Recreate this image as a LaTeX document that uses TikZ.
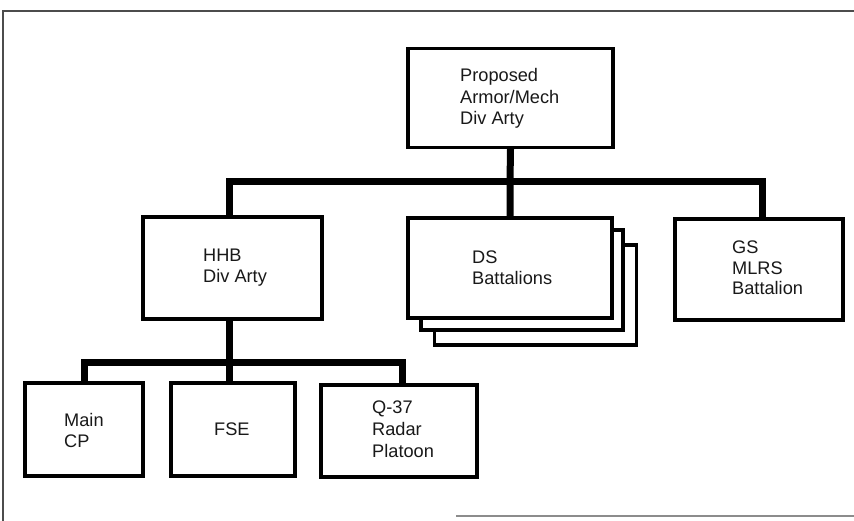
\documentclass[tikz,border=0pt]{standalone}
\usepackage{fontspec}
\setmainfont{Liberation Sans}
\begin{document}
\begin{tikzpicture}[x=1pt,y=-1pt,
  box/.style={draw=black,line width=3.2pt,fill=white,rectangle,inner sep=0pt},
  lbl/.style={anchor=base west,inner sep=0pt,font=\fontsize{18.2}{21.5}\selectfont,text=black!90},
  bus/.style={line width=7pt,black},
  frame/.style={line width=2pt,black!70}]
\useasboundingbox[fill=white] (0,0) rectangle (854,521);
% page frame
\coordinate (f1) at (3,521);
\coordinate (f2) at (3,11);
\coordinate (f3) at (854,11);
\draw[frame] (f1) -- (f2) -- (f3);
\coordinate (g1) at (456,516);
\coordinate (g2) at (854,516);
\draw[line width=2pt,black!45] (g1) -- (g2);
% boxes
\node[box,minimum width=205,minimum height=99] (top) at (510.5,98) {};
\node[box,minimum width=179,minimum height=102] (hhb) at (232.5,268) {};
\node[box,minimum width=202,minimum height=100] (ds3) at (435+100.5,295) {};
\node[box,minimum width=202,minimum height=100] (ds2) at (421+101,280) {};
\node[box,minimum width=204,minimum height=100] (ds) at (510,268) {};
\node[box,minimum width=168,minimum height=101] (gs) at (759,269.5) {};
\node[box,minimum width=118,minimum height=93] (cp) at (84,429.5) {};
\node[box,minimum width=124,minimum height=93] (fse) at (233,429.5) {};
\node[box,minimum width=156,minimum height=92] (q37) at (399,431) {};
% upper bus
\coordinate (ub) at (510,182);
\coordinate (ubl) at (229,182);
\coordinate (ubr) at (762,182);
\draw[bus] (top.south) -- (ub) -- (ds.north);
\draw[bus,line cap=rect] (ubl) -- (ubr);
\draw[bus] (ubl) -- (ubl |- hhb.north);
\draw[bus] (ubr) -- (ubr |- gs.north);
% lower bus
\coordinate (lb) at (229,362);
\coordinate (lbl) at (84,362);
\coordinate (lbr) at (402,362);
\draw[bus] (lb |- hhb.south) -- (lb);
\draw[bus,line cap=rect] (lbl) -- (lbr);
\draw[bus] (lbl) -- (cp.north);
\draw[bus] (lb) -- (lb |- fse.north);
\draw[bus] (lbr) -- (lbr |- q37.north);
% labels
\node[lbl] (t1) at (460,82) {Proposed};
\node[lbl] (t2) at (460,103.5) {Armor/Mech};
\node[lbl] (t3) at (460,125) {Div Arty};
\node[lbl] (h1) at (203,262) {HHB};
\node[lbl] (h2) at (203,283) {Div Arty};
\node[lbl] (d1) at (472,264) {DS};
\node[lbl] (d2) at (472,285) {Battalions};
\node[lbl] (s1) at (732,254) {GS};
\node[lbl] (s2) at (732,274.5) {MLRS};
\node[lbl] (s3) at (732,295) {Battalion};
\node[lbl] (c1) at (64,426) {Main};
\node[lbl] (c2) at (64,447) {CP};
\node[lbl] (e1) at (214,435) {FSE};
\node[lbl] (r1) at (372,413) {Q-37};
\node[lbl] (r2) at (372,435) {Radar};
\node[lbl] (r3) at (372,457) {Platoon};
\end{tikzpicture}
\end{document}
